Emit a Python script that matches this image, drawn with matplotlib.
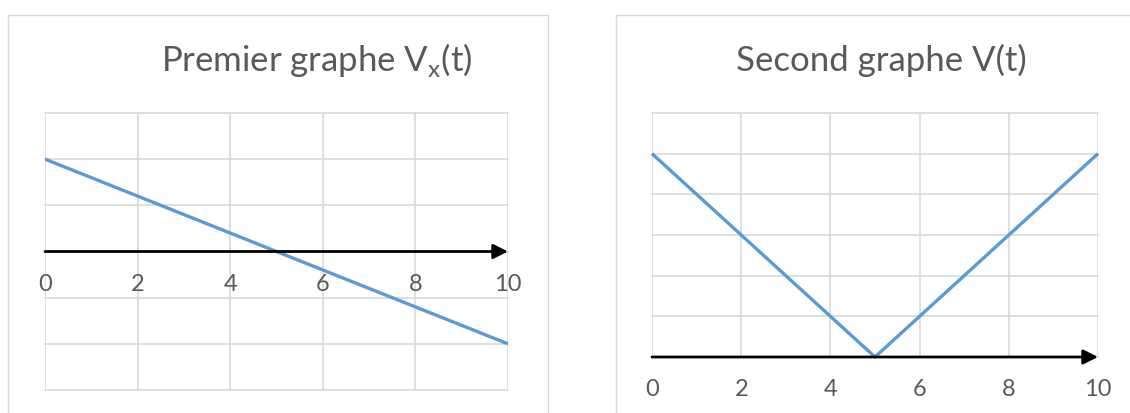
import matplotlib.pyplot as plt
from matplotlib.patches import Rectangle

# data
t_vx = [0, 10]
vx = [2, -2]
t_v = [0, 5, 10]
v = [5, 0, 5]
xticks = [0, 2, 4, 6, 8, 10]
title_left = "Premier graphe V$_{\\mathregular{x}}$(t)"
title_right = "Second graphe V(t)"

W, H = 1130, 413
grid_col = "#d9d9d9"
text_col = "#595959"
line_col = "#5b9bd5"

plt.rcParams["font.family"] = ["Lato", "DejaVu Sans"]
plt.rcParams["mathtext.fontset"] = "custom"
plt.rcParams["mathtext.rm"] = "Lato"

fig = plt.figure(figsize=(W / 100, H / 100), dpi=100)


def px_axes(x0, y0, x1, y1):
    # pixel box (top-left origin) -> figure fraction
    return fig.add_axes([x0 / W, 1 - y1 / H, (x1 - x0) / W, (y1 - y0) / H])


# chart frames
fig.add_artist(Rectangle((8 / W, -0.05), (548 - 8) / W, 1 - 15 / H + 0.05,
                         transform=fig.transFigure, fill=False, ec=grid_col, lw=1))
fig.add_artist(Rectangle((616 / W, -0.05), 0.5, 1 - 15 / H + 0.05,
                         transform=fig.transFigure, fill=False, ec=grid_col, lw=1))


def setup(ax, ylim):
    ax.set_xlim(0, 10)
    ax.set_ylim(*ylim)
    ax.set_xticks(xticks)
    ax.set_yticks(range(ylim[0], ylim[1] + 1))
    ax.grid(True, color=grid_col, lw=1.2)
    for g in ax.get_xgridlines() + ax.get_ygridlines():
        g.set_clip_on(False)
    ax.set_axisbelow(True)
    for s in ["top", "left", "right"]:
        ax.spines[s].set_visible(False)
    ax.spines["bottom"].set_position(("data", 0))
    ax.spines["bottom"].set_visible(False)
    ax.tick_params(axis="x", length=0, pad=16, labelsize=17, labelcolor=text_col)
    ax.tick_params(axis="y", length=0, labelleft=False)
    ax.annotate("", xy=(10, 0), xytext=(0, 0),
                arrowprops=dict(arrowstyle="-|>", color="black", lw=2,
                                mutation_scale=22, shrinkA=0, shrinkB=0))


ax1 = px_axes(45, 113, 508, 390)
setup(ax1, (-3, 3))
ax1.plot(t_vx, vx, color=line_col, lw=2.4, solid_capstyle="butt")

ax2 = px_axes(652, 113, 1098, 357)
setup(ax2, (0, 6))
ax2.plot(t_v, v, color=line_col, lw=2.4, solid_capstyle="butt", clip_on=False)

fig.text(317 / W, 1 - 60 / H, title_left, ha="center", va="center",
         fontsize=25, color=text_col)
fig.text(881 / W, 1 - 60 / H, title_right, ha="center", va="center",
         fontsize=25, color=text_col)

fig.savefig("out.png", dpi=100)
